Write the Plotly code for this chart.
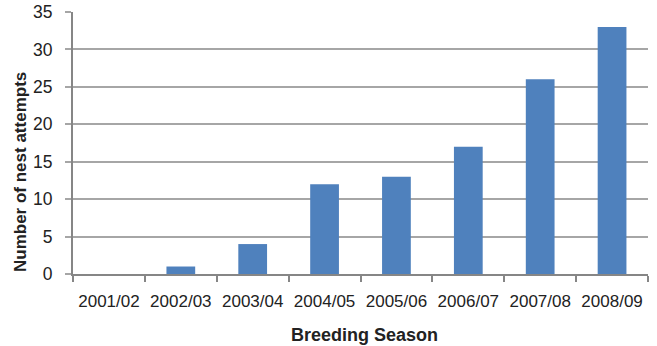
import plotly.graph_objects as go

seasons = ["2001/02", "2002/03", "2003/04", "2004/05", "2005/06", "2006/07", "2007/08", "2008/09"]
nest_attempts = [0, 1, 4, 12, 13, 17, 26, 33]
y_ticks = [0, 5, 10, 15, 20, 25, 30, 35]

W, H = 657, 346
M_L, M_R, M_T, M_B = 73, 9, 12, 72
plot_w = W - M_L - M_R
plot_h = H - M_T - M_B


def px_to_paper_x(px):
    return (px - M_L) / plot_w


def px_to_paper_y(py):
    return (H - M_B - py) / plot_h


fig = go.Figure(
    go.Bar(
        x=seasons,
        y=nest_attempts,
        marker=dict(color="#4F81BD", line=dict(width=0)),
    )
)

font_family = "Liberation Sans, Arial, sans-serif"
text_color = "#222222"

fig.update_layout(
    width=W,
    height=H,
    margin=dict(l=M_L, r=M_R, t=M_T, b=M_B),
    paper_bgcolor="white",
    plot_bgcolor="white",
    bargap=0.6,
    showlegend=False,
    font=dict(family=font_family, size=18, color=text_color),
    xaxis=dict(
        type="category",
        automargin=False,
        tickson="boundaries",
        ticks="outside",
        ticklen=6,
        tickcolor="#868686",
        tickwidth=1.5,
        tickangle=0,
        showline=True,
        linecolor="#868686",
        linewidth=2,
        showgrid=False,
        ticklabelstandoff=11,
        tickfont=dict(size=17, color=text_color),
    ),
    yaxis=dict(
        range=[0, 35],
        automargin=False,
        tickvals=y_ticks,
        ticks="outside",
        ticklen=6,
        tickcolor="#A6A6A6",
        tickwidth=1.5,
        showline=True,
        linecolor="#868686",
        linewidth=2,
        showgrid=True,
        gridcolor="#A6A6A6",
        gridwidth=1.5,
        zeroline=False,
        ticklabelstandoff=9,
        tickfont=dict(size=17.5, color=text_color),
    ),
    annotations=[
        dict(
            text="<b>Breeding Season</b>",
            xref="paper", yref="paper",
            x=px_to_paper_x(364), y=px_to_paper_y(335),
            xanchor="center", yanchor="middle",
            showarrow=False,
            font=dict(size=18, color=text_color),
        ),
        dict(
            text="<b>Number of nest attempts</b>",
            xref="paper", yref="paper",
            x=px_to_paper_x(20), y=px_to_paper_y(172),
            xanchor="center", yanchor="middle",
            textangle=-90,
            showarrow=False,
            font=dict(size=17, color=text_color),
        ),
    ],
)

fig.write_html("out.html")
